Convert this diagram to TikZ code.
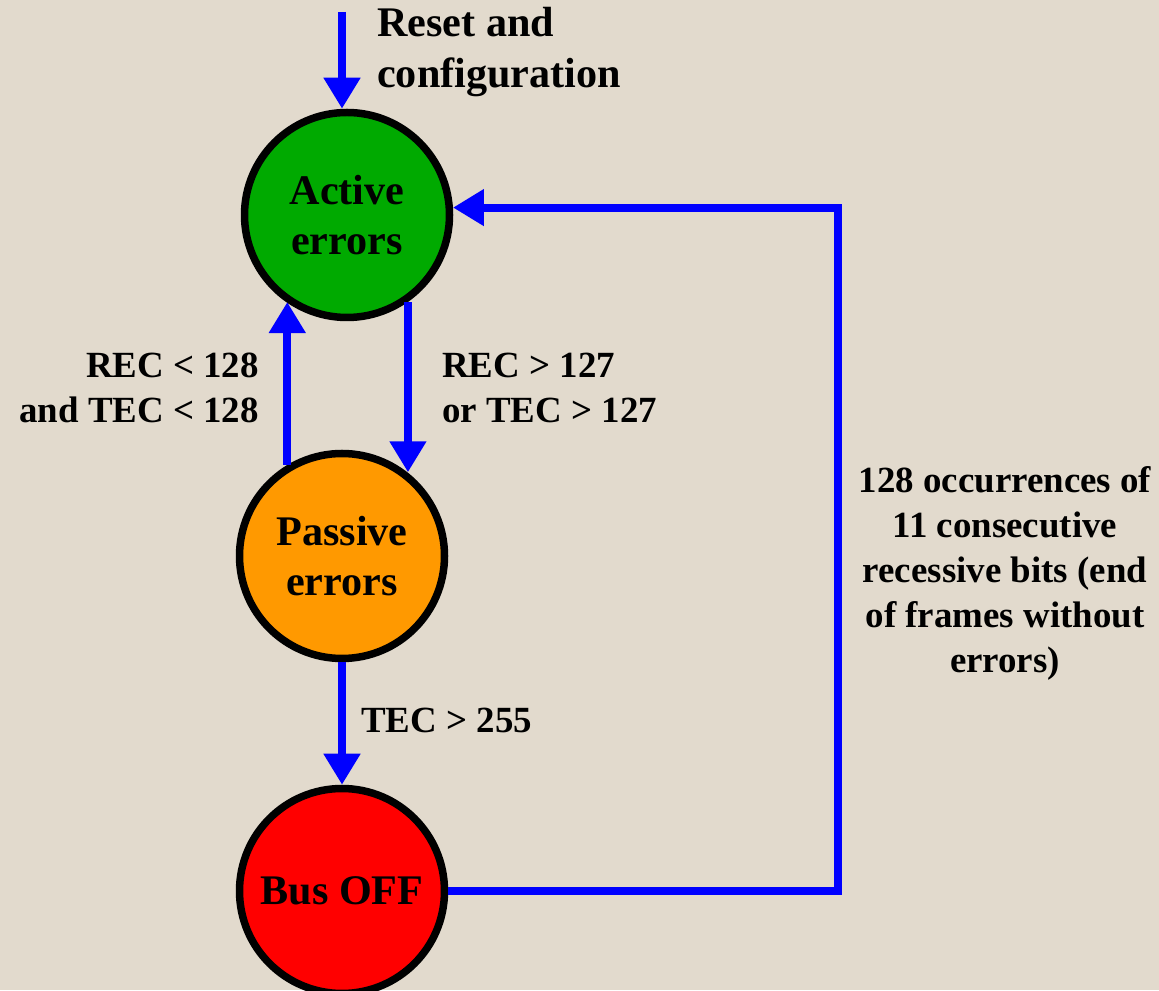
\documentclass[tikz,border=0pt]{standalone}
\usepackage{fontspec}
\setmainfont{Liberation Serif}
\usetikzlibrary{arrows.meta,positioning}
\definecolor{sand}{RGB}{226,218,205}
\definecolor{activegreen}{RGB}{0,170,0}
\definecolor{passiveorange}{RGB}{255,153,0}
\definecolor{busred}{RGB}{255,0,0}
\definecolor{linkblue}{RGB}{0,0,255}
\tikzset{
  state/.style={circle,draw=black,line width=0.15cm,minimum size=4.1cm,inner sep=0pt,
    align=center,font=\fontsize{24}{28.5}\selectfont\bfseries},
  arr/.style={linkblue,line width=0.16cm,-{Triangle[width=0.7cm,length=0.62cm]}},
  lbl/.style={font=\fontsize{21}{25.6}\selectfont\bfseries}
}

\begin{document}
\begin{tikzpicture}
\fill[sand] (0,0) rectangle (23.18,19.8);
\useasboundingbox (0,0) rectangle (23.18,19.8);
% states
\node[state,fill=activegreen] (active) at (6.94,15.5) {Active\\errors};
\node[state,fill=passiveorange] (passive) at (6.84,8.68) {Passive\\errors};
\node[state,fill=busred] (busoff) at (6.84,1.98) {Bus OFF};
\coordinate (reset) at (6.84,19.56);
\coordinate (loop) at (16.76,10);
% transitions
\draw[arr] (reset) -- (reset |- active.north);
\draw[arr] (active.-55) -- (active.-55 |- passive.52);
\draw[arr] (passive.121) -- (passive.121 |- active.-125);
\draw[arr] (passive.south) -- (busoff.north);
\draw[arr] (busoff.east) -- (busoff.east -| loop) -- (loop |- active.4) -- (active.4);
% labels
\node[anchor=west,align=left,font=\fontsize{24}{28.5}\selectfont\bfseries] (resetlbl) at (7.42,18.76) {Reset and\\configuration};
\node[lbl,anchor=east,align=right] (uplbl) at (5.3,12.04) {REC < 128\\and TEC < 128};
\node[lbl,anchor=west,align=left] (downlbl) at (8.72,12.04) {REC > 127\\or TEC > 127};
\node[lbl,anchor=west] (offlbl) at (7.1,5.4) {TEC > 255};
\node[lbl,align=center] (recoverlbl) at (20.1,8.34) {128 occurrences of\\11 consecutive\\recessive bits (end\\of frames without\\errors)};
\end{tikzpicture}
\end{document}
